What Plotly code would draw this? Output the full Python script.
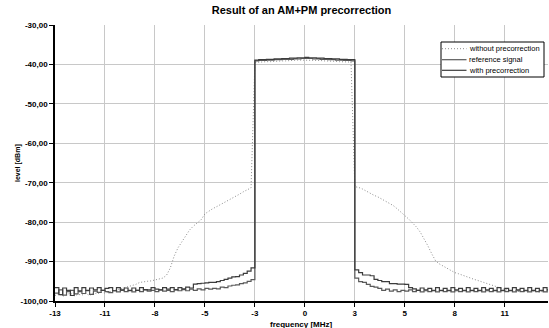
import plotly.graph_objects as go

# frequency grid: -13 MHz .. 13 MHz in 0.2 MHz steps (131 points)
step = 0.2
f_start = -13.0

without_pre = [
    -98.6, -98.2, -98.8, -98.4, -98.0, -98.7, -98.3, -98.5, -98.1, -98.6,
    -97.9, -98.2, -97.8, -98.0, -97.6, -97.4, -97.2, -96.9, -96.6, -96.3,
    -96.0, -95.8, -95.3, -95.1, -95.0, -94.9, -94.7, -94.5, -94.2, -93.5,
    -91.6, -88.6, -86.5, -85.0, -83.4, -82.0, -81.0, -80.2, -79.4, -77.9,
    -77.2, -76.6, -76.1, -75.6, -75.1, -74.6, -74.1, -73.6, -72.9, -72.3,
    -71.8, -71.3,
    -39.5, -39.4, -39.4, -39.3, -39.3, -39.2, -39.2, -39.1, -39.1, -39.0,
    -39.0, -38.9, -38.9, -38.9, -38.9, -38.9, -39.0, -39.0, -39.1, -39.1,
    -39.2, -39.2, -39.3, -39.3, -39.4, -39.4,
    -71.0, -71.2, -71.6, -72.2, -72.7, -73.2, -73.6, -74.1, -74.6, -75.2,
    -75.8, -76.6, -77.4, -78.2, -79.2, -80.2, -81.2, -82.5, -84.2, -86.0,
    -88.0, -89.8, -90.6, -91.2, -91.7, -92.3, -92.8, -93.1, -93.5, -93.9,
    -94.2, -94.5, -94.8, -95.1, -95.4, -95.7, -96.0, -96.4, -96.8, -97.1,
    -97.3, -97.5, -97.4, -97.6, -97.5, -97.7, -97.4, -97.6, -97.8, -97.5,
    -97.7, -97.6, -97.5,
]

with_pre = [
    -96.6, -98.4, -96.7, -97.3, -98.6, -96.6, -97.4, -96.6, -97.3, -96.7,
    -97.2, -96.6, -97.3, -96.8, -96.6, -97.4, -96.6, -97.2, -96.7, -97.3,
    -96.7, -97.3, -96.6, -97.1, -97.2, -96.6, -97.0, -97.2, -96.6, -97.0,
    -96.6, -97.1, -96.6, -96.9, -96.5, -96.7,
    -95.7, -95.6, -95.5, -95.4, -95.3, -95.3, -95.1, -94.8, -94.5, -94.2,
    -93.9, -93.8, -93.4, -93.0, -92.4, -91.6,
    -38.9, -38.8, -38.8, -38.7, -38.7, -38.6, -38.6, -38.5, -38.5, -38.4,
    -38.4, -38.3, -38.3, -38.2, -38.3, -38.3, -38.4, -38.4, -38.5, -38.5,
    -38.6, -38.6, -38.7, -38.7, -38.8, -38.8,
    -92.1, -92.8, -93.4, -93.4, -93.6, -94.5, -94.8, -95.1, -95.1, -95.6,
    -95.6, -95.7, -95.7, -95.8, -96.6, -96.9, -97.3, -96.7, -97.2, -96.8,
    -97.4, -96.6, -97.3, -96.8, -97.4, -96.6, -97.2, -96.8, -97.4, -96.6,
    -97.3, -96.8, -97.4, -96.6, -97.2, -96.8, -97.4, -96.6, -97.3, -96.8,
    -97.4, -96.6, -97.2, -96.8, -97.4, -96.6, -97.3, -96.8, -97.4, -96.6,
    -97.2, -98.2, -96.8,
]

reference = [
    -98.0, -97.2, -98.5, -97.6, -97.3, -98.2, -97.6, -98.1, -97.4, -98.3,
    -97.5, -97.8, -97.3, -97.6, -97.9, -97.4, -97.7, -97.3, -97.6, -97.4,
    -97.7, -97.3, -97.6, -97.2, -97.5, -97.3, -97.6, -97.2, -97.5, -97.3,
    -97.6, -97.2, -97.4, -97.1, -97.4, -97.0,
    -97.3, -96.9, -97.2, -96.8, -97.0, -96.8, -96.9, -96.5, -96.6, -96.2,
    -96.0, -95.9, -95.6, -95.4, -95.0, -94.6,
    -39.1, -39.0, -39.0, -38.9, -38.9, -38.8, -38.8, -38.7, -38.7, -38.7,
    -38.6, -38.6, -38.5, -38.5, -38.5, -38.6, -38.6, -38.7, -38.7, -38.8,
    -38.8, -38.9, -38.9, -39.0, -39.0, -39.1,
    -94.2, -95.1, -95.3, -95.8, -96.3, -96.5, -96.8, -97.3, -97.0, -97.5,
    -97.2, -97.6, -97.3, -97.5, -97.2, -97.6, -97.3, -97.7, -97.4, -97.6,
    -97.3, -97.7, -97.4, -97.6, -97.3, -97.7, -97.4, -97.6, -97.3, -97.7,
    -97.4, -97.6, -97.3, -97.7, -97.4, -97.6, -97.3, -97.7, -97.4, -97.6,
    -97.3, -97.7, -97.4, -97.6, -97.3, -97.7, -97.4, -97.6, -97.3, -97.7,
    -97.4, -97.6, -98.4,
]

series_names = ["without precorrection", "reference signal", "with precorrection"]

x_tick_vals = [-13, -10.4, -7.8, -5.2, -2.6, 0, 2.6, 5.2, 7.8, 10.4]
x_tick_text = ["-13", "-11", "-8", "-5", "-3", "0", "3", "5", "8", "11"]
y_tick_vals = [-100, -90, -80, -70, -60, -50, -40, -30]
y_tick_text = ["-100,00", "-90,00", "-80,00", "-70,00", "-60,00", "-50,00", "-40,00", "-30,00"]

freq = [round(f_start + step * i, 2) for i in range(len(without_pre))]

styles = [
    dict(color="#8c8c8c", width=1, dash="1px,2px"),
    dict(color="#5a5a5a", width=1.2, shape="hv"),
    dict(color="#3c3c3c", width=1.2, shape="hv"),
]

fig = go.Figure()
for name, ys, st in zip(series_names, [without_pre, reference, with_pre], styles):
    fig.add_trace(go.Scatter(x=freq, y=ys, mode="lines", name=name, line=st,
                             showlegend=False))

# plot-area pixel geometry (for the hand-drawn legend box)
L, R, T, B = 55, 548, 25, 301
def px_x(p):
    return (p - L) / (R - L)
def px_y(p):
    return (B - p) / (B - T)

shapes = [dict(type="rect", xref="paper", yref="paper",
               x0=px_x(441), x1=px_x(544), y0=px_y(42), y1=px_y(77),
               line=dict(color="black", width=1), fillcolor="white", layer="above")]
annotations = []
rows = [48.7, 59.7, 70.3]
for name, st, ry in zip(series_names, styles, rows):
    shapes.append(dict(type="line", xref="paper", yref="paper",
                       x0=px_x(442), x1=px_x(466.5), y0=px_y(ry), y1=px_y(ry),
                       line=dict(color=st["color"], width=st["width"],
                                 dash=st.get("dash", "solid")), layer="above"))
    annotations.append(dict(text=name, xref="paper", yref="paper", x=px_x(467),
                            y=px_y(ry), xanchor="left", yanchor="middle",
                            showarrow=False, font=dict(size=7.5)))

font_family = "Liberation Sans, Arial, sans-serif"
annotations += [
    dict(text="<b>frequency [MHz]</b>", x=0.5, xref="paper", y=(B - 324) / (B - T),
         yref="paper", yanchor="middle", showarrow=False, font=dict(size=8)),
    dict(text="<b>level [dBm]</b>", x=(12 - L) / (R - L), xref="paper", y=0.5,
         yref="paper", textangle=-90, showarrow=False, font=dict(size=7)),
]

fig.update_layout(
    width=549, height=328,
    margin=dict(l=L, r=549 - R, t=T, b=328 - B),
    paper_bgcolor="white", plot_bgcolor="white",
    font=dict(family=font_family, color="black"),
    title=dict(text="<b>Result of an AM+PM precorrection</b>", x=0.5, xref="paper",
               y=1 - 10 / 328, yref="container", yanchor="middle",
               font=dict(size=11, family=font_family)),
    showlegend=False,
    xaxis=dict(range=[-13, 12.65], tickvals=x_tick_vals,
               ticktext=["<b>%s</b>" % t for t in x_tick_text],
               tickfont=dict(size=8), showgrid=True, gridcolor="#c8c8c8", gridwidth=1,
               zeroline=False, showline=True, linecolor="black", linewidth=1.5,
               ticks="outside", ticklen=4, tickcolor="black"),
    yaxis=dict(range=[-100, -30], tickvals=y_tick_vals,
               ticktext=["<b>%s</b>" % t for t in y_tick_text],
               tickfont=dict(size=8), showgrid=True, gridcolor="#c8c8c8", gridwidth=1,
               zeroline=False, showline=True, linecolor="black", linewidth=1.5,
               ticks="outside", ticklen=4, tickcolor="black"),
    shapes=shapes,
    annotations=annotations,
)

fig.write_html("out.html")
